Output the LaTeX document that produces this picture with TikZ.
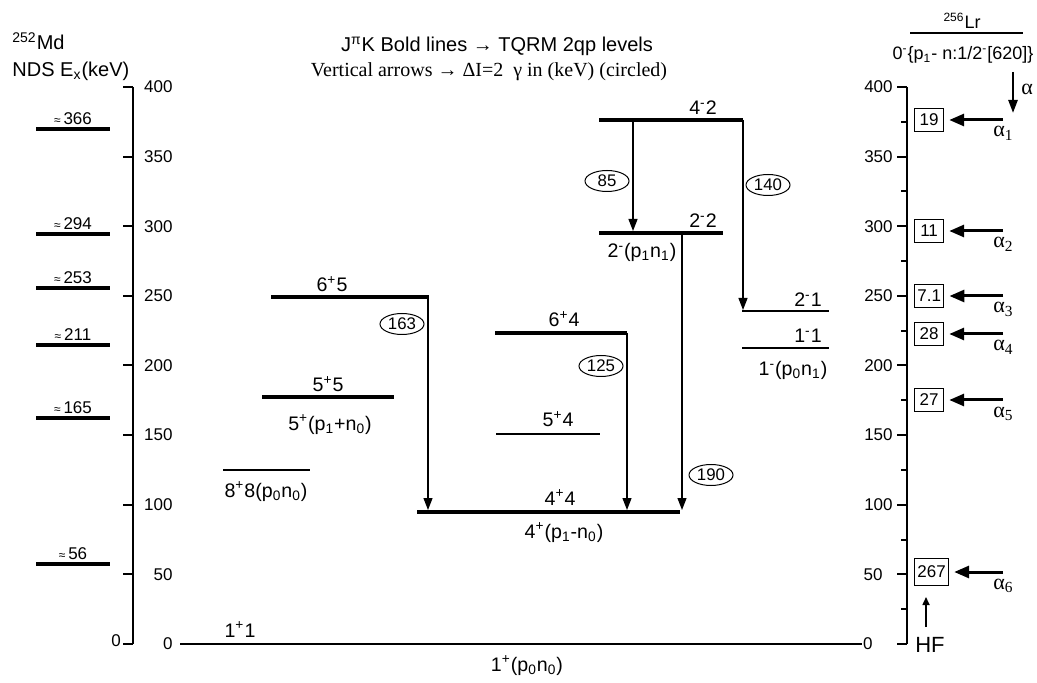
\documentclass[tikz,border=0pt]{standalone}
\usepackage{fontspec}
\setmainfont{Liberation Sans}
\newfontfamily\timesfont{Liberation Serif}
\usetikzlibrary{arrows.meta,shapes.geometric}

\begin{document}
\begin{tikzpicture}[x=0.5pt,y=-0.5pt,
  tqrm/.style={line width=2pt},
  thinlvl/.style={line width=0.6pt},
  ndslvl/.style={line width=1.7pt},
  axisline/.style={line width=1pt},
  gam/.style={line width=0.6pt,-{Triangle[length=6pt,width=4.5pt]}},
  alph/.style={line width=1.5pt,-{Triangle[length=7.5pt,width=6pt]},shorten >=2.5pt},
  lvllab/.style={font=\fontsize{9.8}{10}\selectfont, inner sep=0pt, anchor=base},
  ticklab/.style={font=\fontsize{8.5}{9}\selectfont, inner sep=0pt},
  gnum/.style={ellipse, draw, line width=0.5pt, minimum width=22pt, minimum height=10.5pt, inner sep=0pt, font=\fontsize{8.4}{8}\selectfont},
  ibox/.style={draw, line width=0.6pt, minimum width=14.5pt, minimum height=11.5pt, inner sep=1.4pt, font=\fontsize{8.5}{9}\selectfont},
  alab/.style={font=\timesfont\fontsize{11}{11}\selectfont, inner sep=0pt, anchor=base west}]
  \useasboundingbox (0,0) rectangle (1037,683);

  % Headings
  \node[font=\fontsize{10}{10}\selectfont, anchor=base west, inner sep=0pt] (md) at (12,50) {\textsuperscript{252}Md};
  \node[font=\fontsize{10}{10}\selectfont, anchor=base west, inner sep=0pt] (nds) at (12,77) {NDS E\textsubscript{x}(keV)};
  \node[font=\fontsize{10}{10}\selectfont, anchor=base, inner sep=0pt] (head1) at (497,52) {J\textsuperscript{π}K Bold lines → TQRM 2qp levels};
  \node[font=\timesfont\fontsize{10}{10}\selectfont, anchor=base, inner sep=0pt] (head2) at (489,77) {Vertical arrows → ΔI=2 \ γ in (keV) (circled)};
  \node[font=\fontsize{9}{9}\selectfont, anchor=base, inner sep=0pt] (lr) at (962,29) {\textsuperscript{256}Lr};
  \draw[thinlvl] (910,33) -- (1023,33);
  \node[font=\fontsize{9}{9}\selectfont, anchor=base, inner sep=0pt] (lrgs) at (963,60) {0\textsuperscript{-}\{p\textsubscript{1}- n:1/2\textsuperscript{-}[620]\}};

  % Left axis
  \draw[axisline] (133,87) -- (133,644);
  \foreach \e in {0,50,...,400}{
    \draw[axisline] (123,{644-1.3925*\e}) -- (133,{644-1.3925*\e});
    \node[ticklab, anchor=east] (l\e) at (173,{644-1.3925*\e}) {\e};
  }
  \node[ticklab] (lzero) at (116,641) {0};

  % Right axis
  \draw[axisline] (907,87) -- (907,644);
  \foreach \e/\xl in {0/873,50/883,100/893,150/893,200/893,250/893,300/893,350/893,400/893}{
    \draw[axisline] (897,{644-1.3925*\e}) -- (907,{644-1.3925*\e});
    \node[ticklab, anchor=east] (r\e) at (\xl,{644-1.3925*\e}) {\e};
  }
  \foreach \e in {25,75,...,375}
    \draw[axisline] (901,{644-1.3925*\e}) -- (907,{644-1.3925*\e});

  % NDS levels
  \foreach \y/\v in {129/366,234/294,288/253,345/211,418/165,564/56}{
    \draw[ndslvl] (36,\y) -- (110,\y);
    \node[ticklab, anchor=south] (n\v) at (73,\y-4) {{\fontsize{6}{6}\selectfont ≈}\,\v};
  }

  % Ground band
  \draw[thinlvl] (180,644) -- (862,644);
  \node[lvllab] (k11) at (240,637) {1\textsuperscript{+}1};
  \node[lvllab] (k11c) at (527,671) {1\textsuperscript{+}(p\textsubscript{0}n\textsubscript{0})};

  % K=8 and K=5 bands
  \draw[thinlvl] (223,470) -- (310,470);
  \node[lvllab] (k88) at (266,497) {8\textsuperscript{+}8(p\textsubscript{0}n\textsubscript{0})};
  \draw[tqrm] (262,397) -- (394,397);
  \node[lvllab] (k55) at (328,392) {5\textsuperscript{+}5};
  \node[lvllab] (k55c) at (330,430) {5\textsuperscript{+}(p\textsubscript{1}+n\textsubscript{0})};
  \draw[tqrm] (271,297) -- (429,297);
  \node[lvllab] (k65) at (332,292) {6\textsuperscript{+}5};

  % K=4 band
  \draw[tqrm] (417,512) -- (680,512);
  \node[lvllab] (k44) at (560,505) {4\textsuperscript{+}4};
  \node[lvllab] (k44c) at (564,538) {4\textsuperscript{+}(p\textsubscript{1}-n\textsubscript{0})};
  \draw[thinlvl] (496,434) -- (600,434);
  \node[lvllab] (k54) at (558,427) {5\textsuperscript{+}4};
  \draw[tqrm] (495,333) -- (627,333);
  \node[lvllab] (k64) at (564,327) {6\textsuperscript{+}4};

  % K=2 and K=1 bands
  \draw[tqrm] (599,120) -- (743,120);
  \node[lvllab] (k42) at (703,115) {4\textsuperscript{-}2};
  \draw[tqrm] (599,233) -- (723,233);
  \node[lvllab] (k22) at (703,228) {2\textsuperscript{-}2};
  \node[lvllab] (k22c) at (642,258) {2\textsuperscript{-}(p\textsubscript{1}n\textsubscript{1})};
  \draw[thinlvl] (742,311) -- (829,311);
  \node[lvllab] (k21) at (808,307) {2\textsuperscript{-}1};
  \draw[thinlvl] (742,348) -- (829,348);
  \node[lvllab] (k11m) at (808,343) {1\textsuperscript{-}1};
  \node[lvllab] (k11mc) at (793,376) {1\textsuperscript{-}(p\textsubscript{0}n\textsubscript{1})};

  % Gamma transitions
  \coordinate (t65) at (428,297);  \coordinate (h65) at (428,510);
  \coordinate (t64) at (627,333);  \coordinate (h64) at (627,510);
  \coordinate (t22) at (682,235);  \coordinate (h22) at (682,510);
  \coordinate (t42) at (633,122);  \coordinate (h42) at (633,231);
  \coordinate (t42r) at (743,120); \coordinate (h42r) at (743,310);
  \draw[gam] (t65) -- (h65);
  \draw[gam] (t64) -- (h64);
  \draw[gam] (t22) -- (h22);
  \draw[gam] (t42) -- (h42);
  \draw[gam] (t42r) -- (h42r);
  \node[gnum] (g163) at (402,324) {163};
  \node[gnum] (g125) at (601,366) {125};
  \node[gnum] (g85) at (607,181) {85};
  \node[gnum] (g140) at (768,185) {140};
  \node[gnum] (g190) at (711,475) {190};

  % Alpha feeding
  \foreach \y/\v/\a in {120/19/1,231/11/2,296/7.1/3,334/28/4,400/27/5}{
    \node[ibox, anchor=west] (b\a) at (914,\y) {\v};
    \coordinate (s\a) at (1003,\y);
    \draw[alph] (s\a) -- (b\a);
    \node[alab] (al\a) at (993,\y+17) {α\textsubscript{\a}};
  }
  \node[ibox, anchor=west, minimum height=13.5pt] (b6) at (914,572) {267};
  \coordinate (s6) at (1003,572);
  \draw[alph] (s6) -- (b6);
  \node[alab] (al6) at (993,589) {α\textsubscript{6}};
  \coordinate (as) at (1013,72); \coordinate (ae) at (1013,113);
  \draw[line width=1.2pt,-{Triangle[length=6.5pt,width=4.5pt]}] (as) -- (ae);
  \node[alab] (alpha) at (1021,95) {α};

  % HF
  \node[font=\fontsize{11}{11}\selectfont, inner sep=0pt] (hf) at (930,645) {HF};
  \coordinate (hfs) at (926,627); \coordinate (hft) at (926,597);
  \draw[line width=0.8pt,-{Triangle[length=4pt,width=3.5pt]}] (hfs) -- (hft);
\end{tikzpicture}
\end{document}
